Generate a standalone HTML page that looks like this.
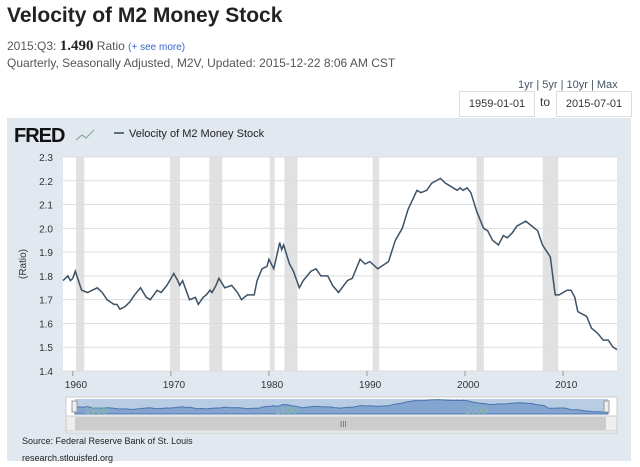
<!DOCTYPE html>
<html><head><meta charset="utf-8"><style>
body{margin:0;width:640px;height:467px;background:#fff;font-family:"Liberation Sans",sans-serif;position:relative;overflow:hidden}
.a{position:absolute;white-space:nowrap}
</style></head><body>
<div class="a" style="left:7px;top:4px;font-size:21px;font-weight:bold;color:#222">Velocity of M2 Money Stock</div>
<div class="a" style="left:7px;top:38px;font-size:12px;color:#555">2015:Q3: <b style="font-family:'Liberation Serif',serif;font-size:15px;color:#222">1.490</b> Ratio <span style="font-size:10px;color:#36c">(+ see more)</span></div>
<div class="a" style="left:7px;top:56px;font-size:12px;color:#555">Quarterly, Seasonally Adjusted, M2V, Updated: 2015-12-22 8:06 AM CST</div>
<div class="a" style="left:518px;top:79px;font-size:11px;color:#456">1yr | 5yr | 10yr | Max</div>
<div class="a" style="left:459px;top:91px;width:74px;height:24px;border:1px solid #ddd;font-size:11px;line-height:24px;text-align:center;color:#333">1959-01-01</div>
<div class="a" style="left:540px;top:95px;font-size:12px;color:#333">to</div>
<div class="a" style="left:556px;top:91px;width:74px;height:24px;border:1px solid #ddd;font-size:11px;line-height:24px;text-align:center;color:#333">2015-07-01</div>
<svg class="a" style="left:0;top:0" width="640" height="467">
<rect x="7" y="118" width="624" height="343" fill="#e1e8f0"/>
<text x="14" y="142" font-size="20" font-weight="bold" fill="#111" font-family="Liberation Sans" letter-spacing="-1">FRED</text>
<polyline points="76,140 82,135 86,138 94,130" fill="none" stroke="#8a9" stroke-width="1.2"/>
<line x1="114" y1="133" x2="124" y2="133" stroke="#345" stroke-width="1.5"/>
<text x="129" y="137" font-size="11" fill="#222">Velocity of M2 Money Stock</text>
<rect x="63" y="157" width="554" height="214" fill="#fff"/>
<g id="rec"></g><g id="grid"></g><g id="xt"></g>
<text transform="translate(26,264) rotate(-90)" font-size="10" fill="#333" text-anchor="middle">(Ratio)</text>
<path id="line" fill="none" stroke="#3d5266" stroke-width="1.5"/>
<rect x="66" y="397" width="551" height="36" fill="#fff" stroke="#ccc"/>
<rect x="75" y="399" width="533" height="15" fill="#b8cce4"/>
<path id="nav" fill="#6e94c8" fill-opacity="0.7" stroke="#4a74ad"/>
<text x="85" y="414" font-size="10" fill="#8ba">1960</text><text x="275" y="414" font-size="10" fill="#8ba">1980</text><text x="465" y="414" font-size="10" fill="#8ba">2000</text>
<rect x="72" y="401" width="5" height="11" fill="#eee" stroke="#999"/>
<rect x="604" y="401" width="5" height="11" fill="#eee" stroke="#999"/>
<rect x="66" y="416" width="551" height="15" fill="#eee" stroke="#ccc"/>
<rect x="75" y="417" width="531" height="13" fill="#ccc"/>
<text x="340" y="427" font-size="8" fill="#666">III</text>
<text x="22" y="444" font-size="9" fill="#222">Source: Federal Reserve Bank of St. Louis</text>
<text x="22" y="461" font-size="9" fill="#222">research.stlouisfed.org</text>
</svg>
<script>
const years=[1959,1959.5,1959.75,1960,1960.25,1960.9,1961.5,1962,1962.5,1963,1963.5,1964.2,1964.5,1964.8,1965.3,1965.8,1966.3,1966.9,1967.5,1967.9,1968.6,1969,1969.6,1970.3,1970.7,1970.9,1971.2,1971.9,1972.5,1972.8,1973.3,1973.6,1974,1974.2,1974.6,1974.9,1975.5,1976.2,1976.8,1977.2,1977.8,1978.5,1978.8,1979.3,1979.8,1980.0,1980.5,1981.1,1981.3,1981.5,1982.1,1982.5,1983.1,1983.5,1984.3,1984.8,1985.3,1986,1986.5,1987.1,1988,1988.5,1989.3,1989.8,1990.3,1991.1,1992.2,1992.9,1993.6,1994.2,1995.1,1995.5,1996.1,1996.6,1997.5,1998,1999.2,1999.5,1999.8,2000.2,2000.6,2001.2,2001.9,2002.3,2002.8,2003.4,2003.9,2004.3,2004.8,2005.3,2006.2,2006.8,2007.4,2007.9,2008.7,2009.2,2009.6,2010.4,2010.8,2011.2,2011.5,2012.4,2012.9,2013.5,2014.1,2014.6,2015.1,2015.5];
const values=[1.78,1.80,1.78,1.79,1.82,1.74,1.73,1.74,1.75,1.73,1.70,1.68,1.68,1.66,1.67,1.69,1.72,1.75,1.71,1.70,1.74,1.73,1.76,1.81,1.78,1.76,1.78,1.70,1.71,1.68,1.71,1.72,1.74,1.73,1.76,1.79,1.75,1.76,1.73,1.70,1.72,1.72,1.78,1.83,1.84,1.87,1.83,1.94,1.91,1.93,1.85,1.82,1.75,1.78,1.82,1.83,1.80,1.80,1.76,1.73,1.78,1.79,1.87,1.85,1.86,1.83,1.86,1.95,2.00,2.08,2.16,2.15,2.16,2.19,2.21,2.19,2.16,2.17,2.16,2.17,2.15,2.07,2.00,1.99,1.95,1.93,1.97,1.96,1.98,2.01,2.03,2.01,1.99,1.93,1.88,1.72,1.72,1.74,1.74,1.71,1.65,1.63,1.58,1.56,1.53,1.53,1.50,1.49];
const recessionStart=[1960.33,1969.92,1973.92,1980.08,1981.58,1990.58,2001.17,2007.92];
const recessionEnd=[1961.17,1970.92,1975.25,1980.58,1982.92,1991.25,2001.92,2009.5];
const yTicks=[1.4,1.5,1.6,1.7,1.8,1.9,2.0,2.1,2.2,2.3];
const xTicks=[1960,1970,1980,1990,2000,2010];
const NS='http://www.w3.org/2000/svg';
const X=t=>63+(t-1959)*554/56.5, Y=v=>371-(v-1.4)*214/0.9;
function mk(tag,attrs,parent){const e=document.createElementNS(NS,tag);for(const k in attrs)e.setAttribute(k,attrs[k]);document.getElementById(parent).appendChild(e);return e;}
recessionStart.forEach((s,i)=>{const r=mk('rect',{x:X(s),y:157,width:X(recessionEnd[i])-X(s),height:214,fill:'#e1e1e1'},'rec');

});
yTicks.forEach(v=>{const l=mk('line',{x1:63,x2:617,y1:Y(v),y2:Y(v),stroke:'#ddd'},'grid');


const t=mk('text',{x:53,y:Y(v)+4,'font-size':10,fill:'#333','text-anchor':'end'},'grid');t.textContent=v.toFixed(1);

});
xTicks.forEach(y=>{mk('line',{x1:X(y),x2:X(y),y1:371,y2:376,stroke:'#999'},'xt');
const t=mk('text',{x:X(y)-8,y:388,'font-size':10,fill:'#333'},'xt');t.textContent=y;

});
document.getElementById('line').setAttribute('d',years.map((t,i)=>(i?'L':'M')+X(t).toFixed(1)+','+Y(values[i]).toFixed(1)).join(''));
const NX=t=>75+(t-1959)*533/56.5, NY=v=>414-(v-1.4)*16/0.9;
document.getElementById('nav').setAttribute('d','M75,414'+years.map((t,i)=>'L'+NX(t).toFixed(1)+','+NY(values[i]).toFixed(1)).join('')+'L608,414Z');
</script>
</body></html>
